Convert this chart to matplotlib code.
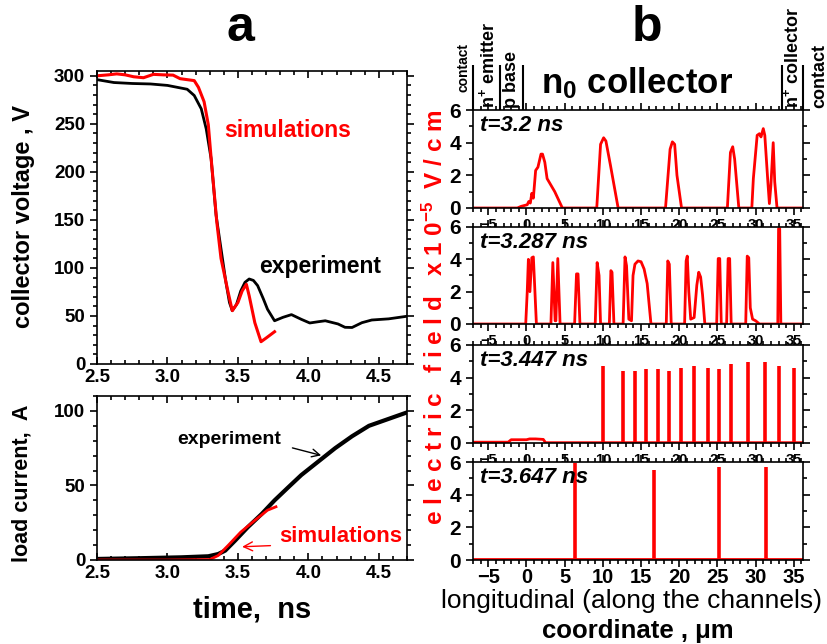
import numpy as np
import matplotlib
matplotlib.use("Agg")
import matplotlib.pyplot as plt
from matplotlib.ticker import MultipleLocator, FormatStrFormatter

plt.rcParams['font.family'] = ['Liberation Sans', 'DejaVu Sans']
plt.rcParams['font.weight'] = 'bold'
plt.rcParams['mathtext.fontset'] = 'custom'
plt.rcParams['mathtext.rm'] = 'Liberation Sans:bold'
plt.rcParams['mathtext.it'] = 'Liberation Sans:italic:bold'
plt.rcParams['mathtext.bf'] = 'Liberation Sans:bold'

RED = '#ff0000'

# --- panel a: collector voltage vs time
volt_exp_t = [2.50, 2.62, 2.75, 2.88, 3.00, 3.07, 3.14, 3.19, 3.24, 3.275, 3.31, 3.345,
              3.38, 3.415, 3.44, 3.46, 3.49, 3.52, 3.55, 3.58, 3.61, 3.64, 3.68, 3.71,
              3.76, 3.82, 3.88, 3.95, 4.01, 4.07, 4.12, 4.21, 4.26, 4.31, 4.38, 4.45,
              4.57, 4.70]
volt_exp_V = [296, 293, 292, 291.5, 290, 288, 286, 279.5, 265.6, 244.8, 213.5, 155,
              120, 85, 64, 55.5, 62, 76, 85, 88.5, 87, 81.6, 68, 57,
              45, 48.6, 51.4, 46.5, 42.7, 44, 45, 41.7, 38.2, 38, 43, 45.8,
              47, 49.7]
volt_sim_t = [2.50, 2.58, 2.64, 2.70, 2.76, 2.83, 2.90, 2.97, 3.04, 3.09, 3.14, 3.19,
              3.22, 3.26, 3.29, 3.31, 3.35, 3.38, 3.43, 3.46, 3.50, 3.53, 3.56, 3.58,
              3.62, 3.664, 3.70, 3.76]
volt_sim_V = [300, 301, 302, 301, 299, 298, 301.5, 301, 300.7, 297, 296, 295,
              288, 273, 249, 214, 148, 110, 75, 55.5, 64, 76, 83, 71,
              43, 23.2, 27, 33.6]

# --- panel a: load current vs time
cur_exp_t = [2.50, 2.80, 3.10, 3.29, 3.36, 3.41, 3.48, 3.57, 3.67, 3.76, 3.86, 3.95,
             4.07, 4.19, 4.31, 4.43, 4.55, 4.70]
cur_exp_I = [0.7, 1.2, 1.8, 2.5, 4, 6.3, 13, 22, 31, 40, 49, 57,
             66, 75, 83, 90, 94, 99]
cur_sim_t = [2.50, 3.00, 3.30, 3.36, 3.43, 3.52, 3.62, 3.71, 3.77]
cur_sim_I = [0, 0, 0.3, 3, 9.7, 18.7, 26.6, 33.4, 35.7]

# --- panel b: electric field profiles (x in um, E in 1e5 V/cm)
f1_x = [-7, -1.2, -0.7, 0.1, 0.3, 0.5, 0.7, 0.9, 1.2, 1.5, 1.9, 2.1, 2.4, 2.7, 3.7, 4.7,
        9.2, 9.7, 10.1, 10.4, 11.0, 12.0,
        18.2, 18.8, 19.1, 19.4, 19.7, 20.3,
        26.3, 26.7, 27.0, 27.25, 27.8,
        29.5, 29.7, 30.2, 30.5, 30.7, 31.0, 31.2, 31.6, 31.8, 32.0, 32.3, 32.5, 32.8, 36.2]
f1_E = [0, 0, 0.1, 0.2, 0.4, 0.3, 0.9, 0.6, 2.3, 2.5, 3.3, 3.3, 2.8, 1.8, 1.0, 0,
        0, 3.9, 4.3, 4.1, 2.6, 0,
        0, 3.6, 4.05, 3.9, 2.0, 0,
        0, 3.4, 3.75, 3.0, 0,
        0, 1.8, 4.45, 4.55, 4.35, 4.86, 4.45, 1.6, 0.27, 1.4, 4.0, 1.6, 0, 0]

f2_x = [-7, -0.1, 0.1, 0.25, 0.45, 0.7, 0.9, 1.3,
        3.2, 3.45, 3.75, 3.85, 4.1, 4.4,
        6.3, 6.55, 6.75, 7.0,
        9.0, 9.25, 9.5, 9.7,
        10.85, 11.05, 11.2, 11.45,
        12.65, 12.9, 13.1, 13.4, 13.75, 13.95, 14.2, 14.6, 15.0, 15.4, 15.8, 16.3,
        18.3, 18.5, 18.7, 18.95,
        20.7, 20.9, 21.05, 21.25, 21.5, 21.95, 22.3, 22.55, 22.8, 23.05, 23.35,
        24.9, 25.1, 25.3, 25.5,
        26.2, 26.4, 26.6, 26.8,
        28.7, 28.9, 29.1, 29.3, 29.6, 30.0, 30.5,
        32.9, 33.0, 33.15, 33.3, 36.2]
f2_E = [0, 0, 2.0, 4.0, 2.0, 4.1, 4.15, 0,
        0, 3.8, 0.2, 0.2, 4.05, 0,
        0, 3.1, 3.1, 0,
        0, 3.8, 3.0, 0,
        0, 3.3, 3.2, 0,
        0, 4.15, 3.6, 0.3, 0.2, 3.0, 3.7, 3.9, 3.85, 3.4, 2.5, 0,
        0, 3.9, 3.7, 0,
        0, 3.9, 4.2, 2.0, 0.3, 0.4, 2.4, 3.2, 2.9, 1.8, 0,
        0, 4.05, 4.05, 0,
        0, 4.05, 4.05, 0,
        0, 4.2, 4.1, 1.0, 0.3, 0.2, 0,
        0, 5.9, 5.9, 0, 0]

f3_base_x = [-7, -2.4, -2.0, 0.0, 0.4, 1.2, 2.2, 2.5, 36.2]
f3_base_E = [0.05, 0.05, 0.2, 0.2, 0.25, 0.25, 0.22, 0.02, 0.02]
f3_spike_x = [10.0, 12.65, 14.2, 15.65, 17.25, 18.7, 20.2, 21.9, 23.75, 25.2,
              26.8, 29.0, 31.2, 33.1, 35.0]
f3_spike_E = [4.69, 4.42, 4.42, 4.52, 4.52, 4.42, 4.58, 4.69, 4.62, 4.52,
              4.83, 4.94, 4.94, 4.69, 4.58]

f4_base_x = [-7, 36.2]
f4_base_E = [0.05, 0.05]
f4_spike_x = [6.36, 16.7, 25.2, 31.3]
f4_spike_E = [5.93, 5.51, 5.72, 5.72]

times = ['t=3.2 ns', 't=3.287 ns', 't=3.447 ns', 't=3.647 ns']

# layer boundaries of the structure (um)
layer_x = [-7, -3.4, -0.4, 33.4, 36.2]

W, H = 828, 644
fig = plt.figure(figsize=(W / 100, H / 100), dpi=100)


def box(l, t, r, b):
    return [l / W, 1 - b / H, (r - l) / W, (b - t) / H]


def style_a(ax, ymax, ymajor):
    ax.set_xlim(2.5, 4.7)
    ax.set_ylim(0, ymax)
    ax.xaxis.set_major_locator(MultipleLocator(0.5))
    ax.xaxis.set_minor_locator(MultipleLocator(0.1))
    ax.yaxis.set_major_locator(MultipleLocator(ymajor))
    ax.yaxis.set_minor_locator(MultipleLocator(10))
    ax.xaxis.set_major_formatter(FormatStrFormatter('%.1f'))
    ax.tick_params(axis='x', which='both', top=True, direction='in')
    ax.tick_params(axis='y', which='both', direction='out', right=True)
    ax.tick_params(which='both', width=1.2, labelsize=13.5)
    ax.tick_params(which='major', length=5)
    ax.tick_params(which='minor', length=3)
    for s in ax.spines.values():
        s.set_linewidth(1.2)


# panel a, top
axv = fig.add_axes(box(97, 71, 407, 364))
axv.plot(volt_exp_t, volt_exp_V, color='black', lw=2)
axv.plot(volt_sim_t, volt_sim_V, color=RED, lw=2.2)
style_a(axv, 305, 50)
axv.text(3.4, 243, 'simulations', color=RED, fontsize=16.5, va='center')
axv.text(3.65, 102, 'experiment', color='black', fontsize=16.5, va='center')

# panel a, bottom
axi = fig.add_axes(box(97, 396, 407, 560))
axi.plot(cur_exp_t, cur_exp_I, color='black', lw=3)
axi.plot(cur_sim_t, cur_sim_I, color=RED, lw=2)
style_a(axi, 110, 50)
axi.annotate('experiment', xy=(4.11, 69.7), xytext=(3.81, 80.5), fontsize=14,
             ha='right', va='center',
             arrowprops=dict(arrowstyle='->', color='black', lw=1,
                             relpos=(1.0, 0.2), shrinkA=6))
axi.annotate('simulations', xy=(3.51, 8.8), xytext=(3.79, 15.5), fontsize=16,
             color=RED, ha='left', va='center',
             arrowprops=dict(arrowstyle='->', color=RED, lw=1,
                             relpos=(0.0, 0.1), shrinkA=4))

fig.text(24 / W, 1 - 217 / H, 'collector voltage , V', rotation=90, fontsize=17,
         ha='center', va='center')
fig.text(22 / W, 1 - 483 / H, 'load current,  A', rotation=90, fontsize=15.5,
         ha='center', va='center')
fig.text(252 / W, 1 - 610 / H, 'time,  ns', fontsize=21, ha='center', va='center')
fig.text(240 / W, 1 - 28 / H, 'a', fontsize=36, ha='center', va='center')
fig.text(647 / W, 1 - 28 / H, 'b', fontsize=36, ha='center', va='center')

# panel b
rows = [(110, 208), (227, 324), (345, 443), (462, 560)]
axes_b = []
for k, (t, b) in enumerate(rows):
    ax = fig.add_axes(box(473, t, 803, b))
    ax.set_xlim(-7, 36.2)
    ax.set_ylim(0, 6)
    ax.xaxis.set_major_locator(MultipleLocator(5))
    ax.xaxis.set_minor_locator(MultipleLocator(1))
    ax.yaxis.set_major_locator(MultipleLocator(2))
    ax.yaxis.set_minor_locator(MultipleLocator(1))
    ax.tick_params(which='both', width=1.2, labelsize=15)
    ax.tick_params(which='major', length=5)
    ax.tick_params(which='minor', length=3)
    ax.tick_params(axis='x', which='both', direction='out', top=True)
    if k == 3:
        ax.tick_params(axis='x', labelsize=14.5, pad=1)
    else:
        ax.tick_params(axis='x', labelsize=10.5, pad=2)
    ax.tick_params(axis='y', which='both', direction='out', right=True)
    for s in ax.spines.values():
        s.set_linewidth(1.2)
    ax.text(0.02, 0.95, times[k], transform=ax.transAxes, fontsize=16,
            style='italic', ha='left', va='top')
    axes_b.append(ax)

axes_b[0].plot(f1_x, f1_E, color=RED, lw=2)
axes_b[1].plot(f2_x, f2_E, color=RED, lw=2)
axes_b[2].plot(f3_base_x, f3_base_E, color=RED, lw=2)
axes_b[2].vlines(f3_spike_x, 0, f3_spike_E, color=RED, lw=2.6)
axes_b[3].plot(f4_base_x, f4_base_E, color=RED, lw=2)
axes_b[3].vlines(f4_spike_x, 0, f4_spike_E, color=RED, lw=2.6)

# structure header above the field profiles
hdr = fig.add_axes(box(473, 15, 803, 110))
hdr.set_xlim(-7, 36.2)
hdr.set_ylim(0, 1)
hdr.axis('off')
hdr.vlines(layer_x, 0, 0.47, color='black', lw=1.5, clip_on=False)
hdr.text(-8.3, 0.19, 'contact', rotation=90, fontsize=10, ha='center', va='bottom',
         clip_on=False)
hdr.text(-5.1, 0.02, 'n$^{+}$ emitter', rotation=90, fontsize=13, ha='center', va='bottom')
hdr.text(-1.9, 0.02, 'p base', rotation=90, fontsize=13, ha='center', va='bottom')
hdr.text(1.9, 0.18, 'n$_{0}$ collector', fontsize=25, ha='left', va='baseline')
hdr.text(34.8, 0.02, 'n$^{+}$ collector', rotation=90, fontsize=13, ha='center',
         va='bottom')
hdr.text(38.4, 0.02, 'contact', rotation=90, fontsize=13, ha='center', va='bottom',
         clip_on=False)

fig.text(435 / W, 1 - 317 / H,
         'e l e c t r i c   f i e l d   x 1 0$^{-5}$  V / c m',
         rotation=90, color=RED, fontsize=17.5, ha='center', va='center')
fig.text(632 / W, 1 - 601 / H, 'longitudinal (along the channels)', fontsize=19,
         fontweight='normal', ha='center', va='center')
fig.text(638 / W, 1 - 631 / H, 'coordinate , μm', fontsize=18.5, ha='center',
         va='center')

fig.savefig('out.png', dpi=100)
